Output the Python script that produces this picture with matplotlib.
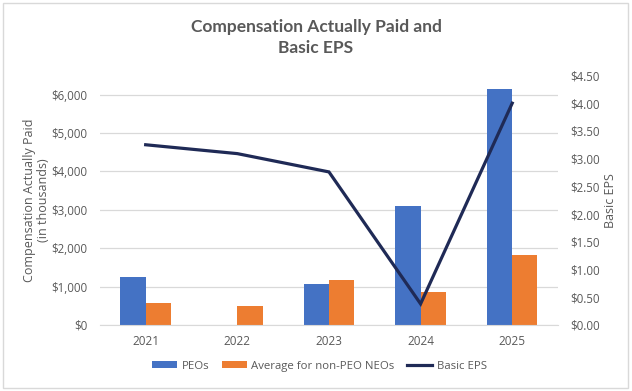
import matplotlib
matplotlib.use("Agg")
import matplotlib.pyplot as plt
from matplotlib.patches import Rectangle
from matplotlib.ticker import FuncFormatter, MultipleLocator
import numpy as np

years = ["2021", "2022", "2023", "2024", "2025"]
peo_cap = [1250, 10, 1060, 3105, 6140]
neo_cap = [560, 500, 1165, 860, 1810]
basic_eps = [3.25, 3.09, 2.76, 0.38, 4.00]

plt.rcParams['font.family'] = ['Open Sans', 'DejaVu Sans']
gray = '#595959'
blue = '#4472C4'
orange = '#ED7D31'
navy = '#1F2A56'

fig = plt.figure(figsize=(6.32, 3.91), dpi=100)
ax = fig.add_axes([0.158, 0.169, 0.725, 0.638])
ax2 = ax.twinx()

x = np.arange(len(years))
w = 0.275
ax.bar(x - w/2, peo_cap, w, color=blue, label='PEOs', zorder=2)
ax.bar(x + w/2, neo_cap, w, color=orange, label='Average for non-PEO NEOs', zorder=2)
ax2.plot(x, basic_eps, color=navy, lw=2.3, label='Basic EPS', solid_joinstyle='miter')

ax.set_xlim(-0.5, len(years) - 0.5)
ax.set_ylim(0, 6500)
ax.yaxis.set_major_locator(MultipleLocator(1000))
ax.yaxis.set_major_formatter(FuncFormatter(lambda v, p: f"${v:,.0f}"))
ax2.set_ylim(0, 4.5)
ax2.yaxis.set_major_locator(MultipleLocator(0.5))
ax2.yaxis.set_major_formatter(FuncFormatter(lambda v, p: f"${v:.2f}"))

ax.set_xticks(x)
ax.set_xticklabels(years)
ax.grid(axis='y', color='#D9D9D9', lw=0.9, zorder=0)
ax.set_axisbelow(True)
for a in (ax, ax2):
    for s in a.spines.values():
        s.set_visible(False)
    a.tick_params(length=0, colors=gray, labelsize=8.3)
ax.spines['bottom'].set_visible(True)
ax.spines['bottom'].set_color('#D9D9D9')
ax.tick_params(axis='y', pad=9)
ax.tick_params(axis='x', pad=7, labelsize=8.5)
ax2.tick_params(axis='y', pad=9)

ax.set_ylabel('Compensation Actually Paid\n(in thousands)', color=gray, fontsize=9, linespacing=1.1, labelpad=1)
ax2.set_ylabel('Basic EPS', color=gray, fontsize=9, labelpad=3)

fig.text(0.5, 0.905, 'Compensation Actually Paid and\nBasic EPS', ha='center', va='center',
         fontsize=12.5, fontweight='bold', color=gray, family=['Lato', 'DejaVu Sans'], linespacing=1.4)

h1, l1 = ax.get_legend_handles_labels()
h2, l2 = ax2.get_legend_handles_labels()
fig.legend(h1 + h2, l1 + l2, loc='center', bbox_to_anchor=(0.505, 0.063), ncol=3, frameon=False,
           fontsize=8.2, labelcolor=gray, handlelength=2.2, handleheight=0.6, columnspacing=1.1, handletextpad=0.4)

fig.patches.append(Rectangle((0.005, 0.008), 0.988, 0.985, transform=fig.transFigure,
                             fill=False, edgecolor='#D9D9D9', lw=1))

fig.savefig('out.png', dpi=100, facecolor='white')
